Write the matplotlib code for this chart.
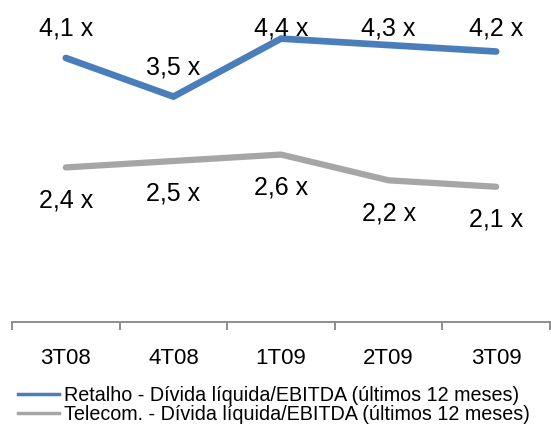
import matplotlib
matplotlib.use("Agg")
import matplotlib.pyplot as plt
from matplotlib.lines import Line2D

categories = ["3T08", "4T08", "1T09", "2T09", "3T09"]
retalho = [4.1, 3.5, 4.4, 4.3, 4.2]
telecom = [2.4, 2.5, 2.6, 2.2, 2.1]
retalho_labels = ["4,1 x", "3,5 x", "4,4 x", "4,3 x", "4,2 x"]
telecom_labels = ["2,4 x", "2,5 x", "2,6 x", "2,2 x", "2,1 x"]
legend_labels = [
    "Retalho - Dívida líquida/EBITDA (últimos 12 meses)",
    "Telecom. - Dívida líquida/EBITDA (últimos 12 meses)",
]

BLUE = "#4A7EBB"
GRAY = "#A6A6A6"
FONT = "Liberation Sans"

fig = plt.figure(figsize=(5.51, 4.30), dpi=100)
ax = fig.add_axes([12 / 551, 108 / 430, 538 / 551, 322 / 430])

x = list(range(len(categories)))
ax.plot(x, retalho, color=BLUE, lw=4.8, solid_capstyle="round",
        solid_joinstyle="miter", zorder=3)
ax.plot(x, telecom, color=GRAY, lw=4.5, solid_capstyle="round",
        solid_joinstyle="miter", zorder=3)

ymax = 5.0
ax.set_ylim(0, ymax)
ax.set_xlim(-0.5, len(categories) - 0.5)

# value labels: above the blue line (kept inside the plot), below the gray one
top_cap = ymax - 0.435
for xi, v, t in zip(x, retalho, retalho_labels):
    ax.text(xi, min(v + 0.45, top_cap), t, ha="center", va="center",
            fontsize=18, family=FONT, color="black", zorder=4)
for xi, v, t in zip(x, telecom, telecom_labels):
    ax.text(xi, v - 0.51, t, ha="center", va="center",
            fontsize=18, family=FONT, color="black", zorder=4)

# category axis: labels centred, tick marks between categories
for side in ["left", "right", "top"]:
    ax.spines[side].set_visible(False)
ax.spines["bottom"].set_color("#868686")
ax.spines["bottom"].set_linewidth(1.3)
ax.set_yticks([])
ax.set_xticks(x)
ax.set_xticklabels(categories, fontsize=16, family=FONT)
ax.tick_params(axis="x", which="major", length=0, pad=19)
ax.set_xticks([i - 0.5 for i in range(len(categories) + 1)], minor=True)
ax.tick_params(axis="x", which="minor", length=6, width=1.3, color="#868686")

handles = [Line2D([], [], color=BLUE, lw=2.5),
           Line2D([], [], color=GRAY, lw=2.5)]
fig.legend(handles, legend_labels, loc="upper left",
           bbox_to_anchor=(18 / 551, 1 - 386 / 430), frameon=False,
           prop={"family": FONT, "size": 14.2}, handlelength=2.1,
           handletextpad=0.25, labelspacing=-0.02, borderpad=0,
           borderaxespad=0)

fig.savefig("out.png", dpi=100)
